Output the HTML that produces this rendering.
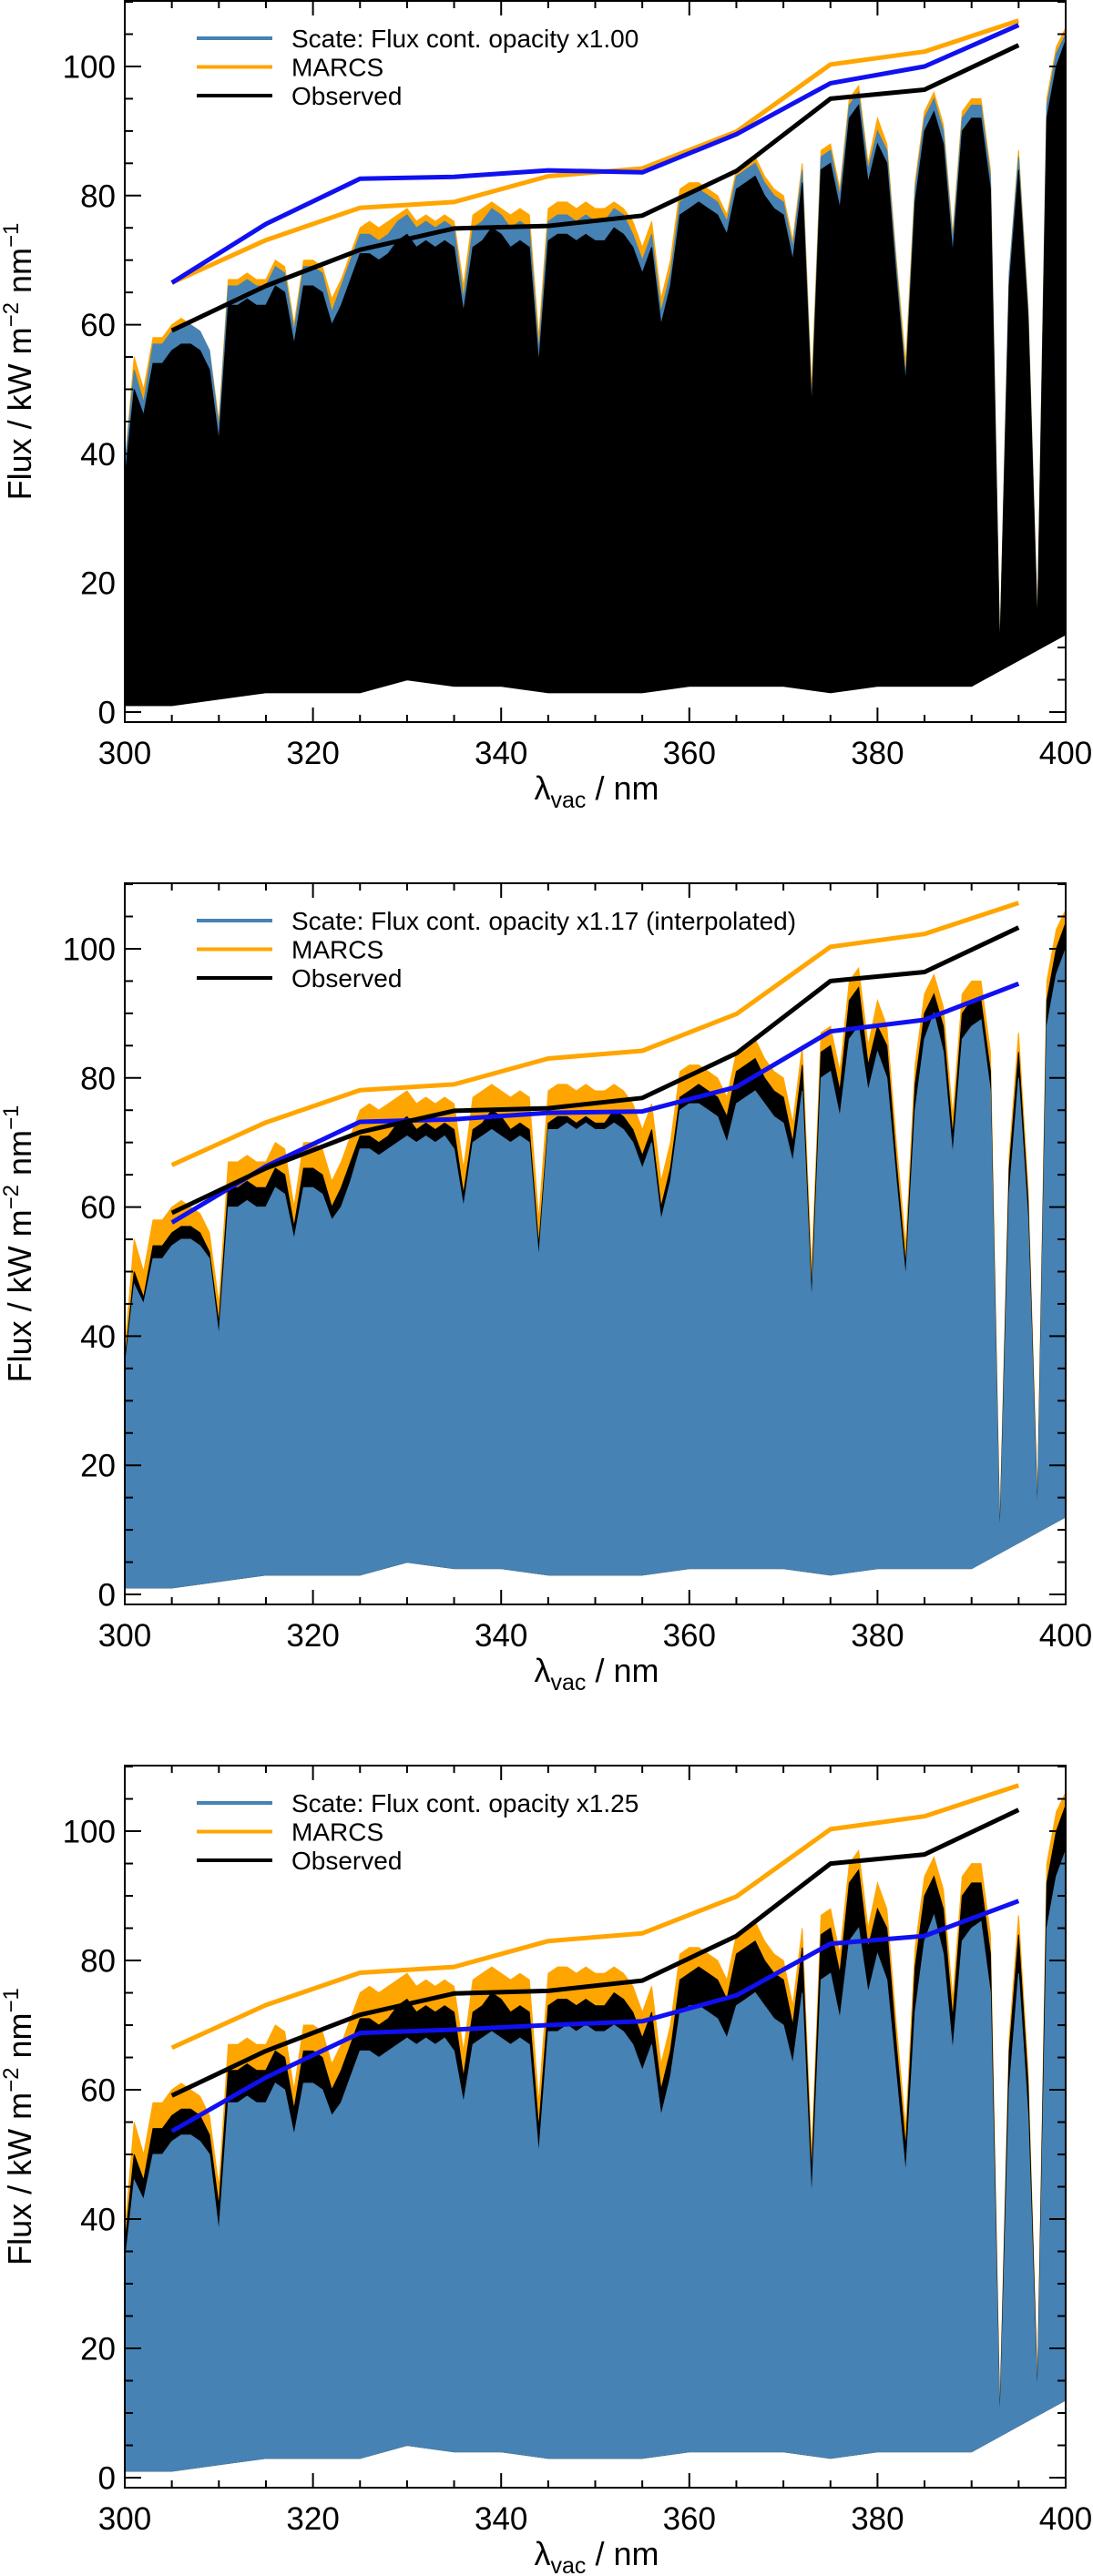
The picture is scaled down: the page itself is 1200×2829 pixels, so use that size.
<!DOCTYPE html>
<html><head><meta charset="utf-8"><title>Flux comparison</title>
<style>
html,body{margin:0;padding:0;background:#fff;}
svg{display:block;font-family:"Liberation Sans",Arial,sans-serif;}
</style></head>
<body>
<svg id="fig" width="1200" height="2829" viewBox="0 0 1200 2829" xmlns="http://www.w3.org/2000/svg"></svg>
<script>
// ---- data ----
const wlStart = 300;            // spectrum grid start (nm), 1 nm steps
const obsUpper = [36,50,46,54,54,56,57,57,56,53, 42,63,63,64,63,63,66,65,57,66, 66,65,60,63,67,71,71,70,71,73, 74,72,73,72,73,72,62,72,73,75, 74,72,73,72,54,73,74,74,73,74, 73,73,75,74,72,68,72,60,66,77, 78,79,78,77,74,81,82,83,80,78, 77,70,82,47,84,85,78,92,94,82, 88,85,67,51,79,90,93,88,71,90, 92,92,81,9,66,84,61,13,92,100,104];
const marcsUpper = [38,55,50,58,58,60,61,60,59,56, 45,67,67,68,67,67,70,69,60,70, 70,69,64,67,71,75,76,75,76,77, 78,76,77,76,77,76,66,77,78,79, 78,77,78,77,58,78,79,79,78,79, 78,78,79,78,76,72,76,64,70,81, 82,82,81,80,77,84,85,86,83,81, 80,73,85,50,87,88,81,95,97,85, 92,88,70,54,82,93,96,91,74,93, 95,95,84,10,68,87,63,14,95,103,106];
const scate1Upper = [38,53,48,57,57,59,60,60,59,56, 44,66,66,67,66,66,69,68,59,69, 69,68,62,66,70,74,74,73,74,76, 77,75,76,75,76,75,64,75,76,78, 77,75,76,75,56,76,77,77,76,77, 76,76,78,77,74,70,74,62,68,79, 80,81,80,79,76,83,84,85,82,80, 79,72,84,48,86,87,80,94,96,84, 90,87,69,52,81,92,95,90,73,92, 94,94,83,9,68,86,62,13,94,102,105];
const scate2Upper = [35,48,45,52,52,54,55,55,54,52, 40,60,60,61,60,60,63,62,55,63, 63,62,58,60,64,69,69,68,69,70, 71,70,71,70,71,69,60,70,71,72, 71,70,71,70,52,72,72,73,72,73, 72,72,73,72,70,66,70,58,64,75, 76,76,75,74,70,76,77,78,76,74, 73,67,78,45,80,81,74,86,88,78, 84,80,64,49,75,86,90,84,68,86, 88,89,78,8,62,80,58,12,88,96,100];
const scate3Upper = [33,46,43,50,50,52,53,53,52,50, 38,58,58,59,58,58,61,60,53,61, 61,60,56,58,62,66,66,65,66,67, 68,67,68,67,68,66,58,67,68,69, 68,67,68,67,50,69,69,70,69,70, 69,69,70,69,67,63,67,56,62,72, 73,73,72,71,68,73,74,75,73,71, 70,64,75,43,77,78,71,83,85,75, 81,77,62,47,72,83,87,81,66,83, 85,86,75,8,60,78,56,12,85,93,97];
const lowWl  = [300,305,310,315,320,325,330,335,340,345,350,355,360,365,370,375,380,385,390,395,400];
const lowEnv = [1,1,2,3,3,3,5,4,4,3,3,3,4,4,4,3,4,4,4,8,12];
const contWl = [305,315,325,335,345,355,365,375,385,395];
const contMarcs = [66.5,73.1,78.1,79.0,83.0,84.2,89.9,100.3,102.3,107.1];
const contObs   = [59.1,66.0,71.6,74.9,75.3,76.9,83.8,95.0,96.4,103.3];
const contScate1 = [66.5,75.6,82.6,82.9,83.9,83.6,89.5,97.4,100.0,106.4];
const contScate2 = [57.6,66.3,73.2,73.6,74.6,74.8,78.6,87.2,89.0,94.6];
const contScate3 = [53.6,61.9,68.8,69.3,70.0,70.6,74.6,82.6,83.8,89.2];
const xTicks = [300,320,340,360,380,400];
const yTicks = [0,20,40,60,80,100];
const legendLabels = ["Scate: Flux cont. opacity x1.00","Scate: Flux cont. opacity x1.17 (interpolated)","Scate: Flux cont. opacity x1.25"];

// ---- layout ----
const NS = "http://www.w3.org/2000/svg";
const svg = document.getElementById('fig');
const L = 137, R = 1170, XMIN = 300, XMAX = 400, YMIN = -1.55, YMAX = 110.15;
const panels = [{top:1,bottom:793},{top:970,bottom:1762},{top:1939,bottom:2732}];
const SPEC_BLUE = "#4682b4", CONT_BLUE = "#1010f0", ORANGE = "#ffa500";

function mk(tag, attrs, parent){ const e=document.createElementNS(NS,tag); for(const k in attrs) e.setAttribute(k,attrs[k]); (parent||svg).appendChild(e); return e; }
function xs(v){ return L + (v-XMIN)/(XMAX-XMIN)*(R-L); }
function ysF(p){ return v => p.bottom - (v-YMIN)/(YMAX-YMIN)*(p.bottom-p.top); }

function specPoly(g, upper, color, y, name){
  let pts=[];
  for(let i=0;i<upper.length;i++) pts.push(xs(wlStart+i).toFixed(1)+","+y(upper[i]).toFixed(1));
  for(let i=lowWl.length-1;i>=0;i--) pts.push(xs(lowWl[i]).toFixed(1)+","+y(lowEnv[i]).toFixed(1));
  const e = mk('polygon',{points:pts.join(' '),fill:color,stroke:color,'stroke-width':1},g);
  
  
}
function contLine(g, vals, color, y, name){
  const pts = contWl.map((w,i)=>xs(w).toFixed(1)+","+y(vals[i]).toFixed(1)).join(' ');
  const e = mk('polyline',{points:pts,fill:'none',stroke:color,'stroke-width':5,'stroke-linejoin':'round'},g);
  
  
}

const scates = [scate1Upper, scate2Upper, scate3Upper];
const contScates = [contScate1, contScate2, contScate3];

panels.forEach((p,pi)=>{
  const y = ysF(p);
  const g = mk('g',{});
  
  
  const clipId = 'clip'+pi;
  const cp = mk('clipPath',{id:clipId},g);
  mk('rect',{x:L,y:p.top,width:R-L,height:p.bottom-p.top},cp);
  const plot = mk('g',{'clip-path':'url(#'+clipId+')'},g);
  
  
  specPoly(plot, marcsUpper, ORANGE, y, 'marcs-spectrum');
  if(pi===0){
    specPoly(plot, scates[pi], SPEC_BLUE, y, 'scate-spectrum');
    specPoly(plot, obsUpper, '#000', y, 'observed-spectrum');
  } else {
    specPoly(plot, obsUpper, '#000', y, 'observed-spectrum');
    specPoly(plot, scates[pi], SPEC_BLUE, y, 'scate-spectrum');
  }
  contLine(plot, contMarcs, ORANGE, y, 'marcs-continuum');
  contLine(plot, contScates[pi], CONT_BLUE, y, 'scate-continuum');
  contLine(plot, contObs, '#000', y, 'observed-continuum');
  const fr = mk('rect',{x:L,y:p.top,width:R-L,height:p.bottom-p.top,fill:'none',stroke:'#000','stroke-width':2},g);
  
  
  for(let v=XMIN; v<=XMAX; v+=5){
    const major = v%20===0, len = major?16:8, X = xs(v);
    mk('line',{x1:X,y1:p.bottom,x2:X,y2:p.bottom-len,stroke:'#000','stroke-width':2},g);
    mk('line',{x1:X,y1:p.top,x2:X,y2:p.top+len,stroke:'#000','stroke-width':2},g);
  }
  xTicks.forEach(v=>{
    const t = mk('text',{x:xs(v),y:p.bottom+46,'font-size':35,'text-anchor':'middle',fill:'#000'},g);
    t.textContent = v;
    
    
  });
  for(let v=0; v<=110; v+=5){
    const major = v%20===0, len = major?18:9, Y = y(v);
    mk('line',{x1:L,y1:Y,x2:L+len,y2:Y,stroke:'#000','stroke-width':2},g);
    mk('line',{x1:R,y1:Y,x2:R-len,y2:Y,stroke:'#000','stroke-width':2},g);
  }
  yTicks.forEach(v=>{
    const t = mk('text',{x:127,y:y(v)+12.5,'font-size':35,'text-anchor':'end',fill:'#000'},g);
    t.textContent = v;
    
    
  });
  const cy = (p.top+p.bottom)/2;
  const yt = mk('text',{x:0,y:0,'font-size':36,'text-anchor':'middle',fill:'#000',transform:'translate(34,'+cy+') rotate(-90)'},g);
  
  
  yt.innerHTML = 'Flux / kW m<tspan dy="-14" font-size="24">−2</tspan><tspan dy="14"> nm</tspan><tspan dy="-14" font-size="24">−1</tspan>';
  const xt = mk('text',{x:655,y:p.bottom+85,'font-size':36,'text-anchor':'middle',fill:'#000'},g);
  
  
  xt.innerHTML = 'λ<tspan dy="9" font-size="25">vac</tspan><tspan dy="-9"> / nm</tspan>';
  const lg = mk('g',{},g);
  
  
  const entries = [[legendLabels[pi], SPEC_BLUE],["MARCS", ORANGE],["Observed","#000"]];
  entries.forEach((en,i)=>{
    const ly = p.top + 41 + i*31.5;
    const ln = mk('line',{x1:216,y1:ly,x2:299,y2:ly,stroke:en[1],'stroke-width':4},lg);
    
    
    const tx = mk('text',{x:320,y:ly+10,'font-size':28,fill:'#000'},lg);
    tx.textContent = en[0];
    
    
  });
});
</script>
</body></html>
